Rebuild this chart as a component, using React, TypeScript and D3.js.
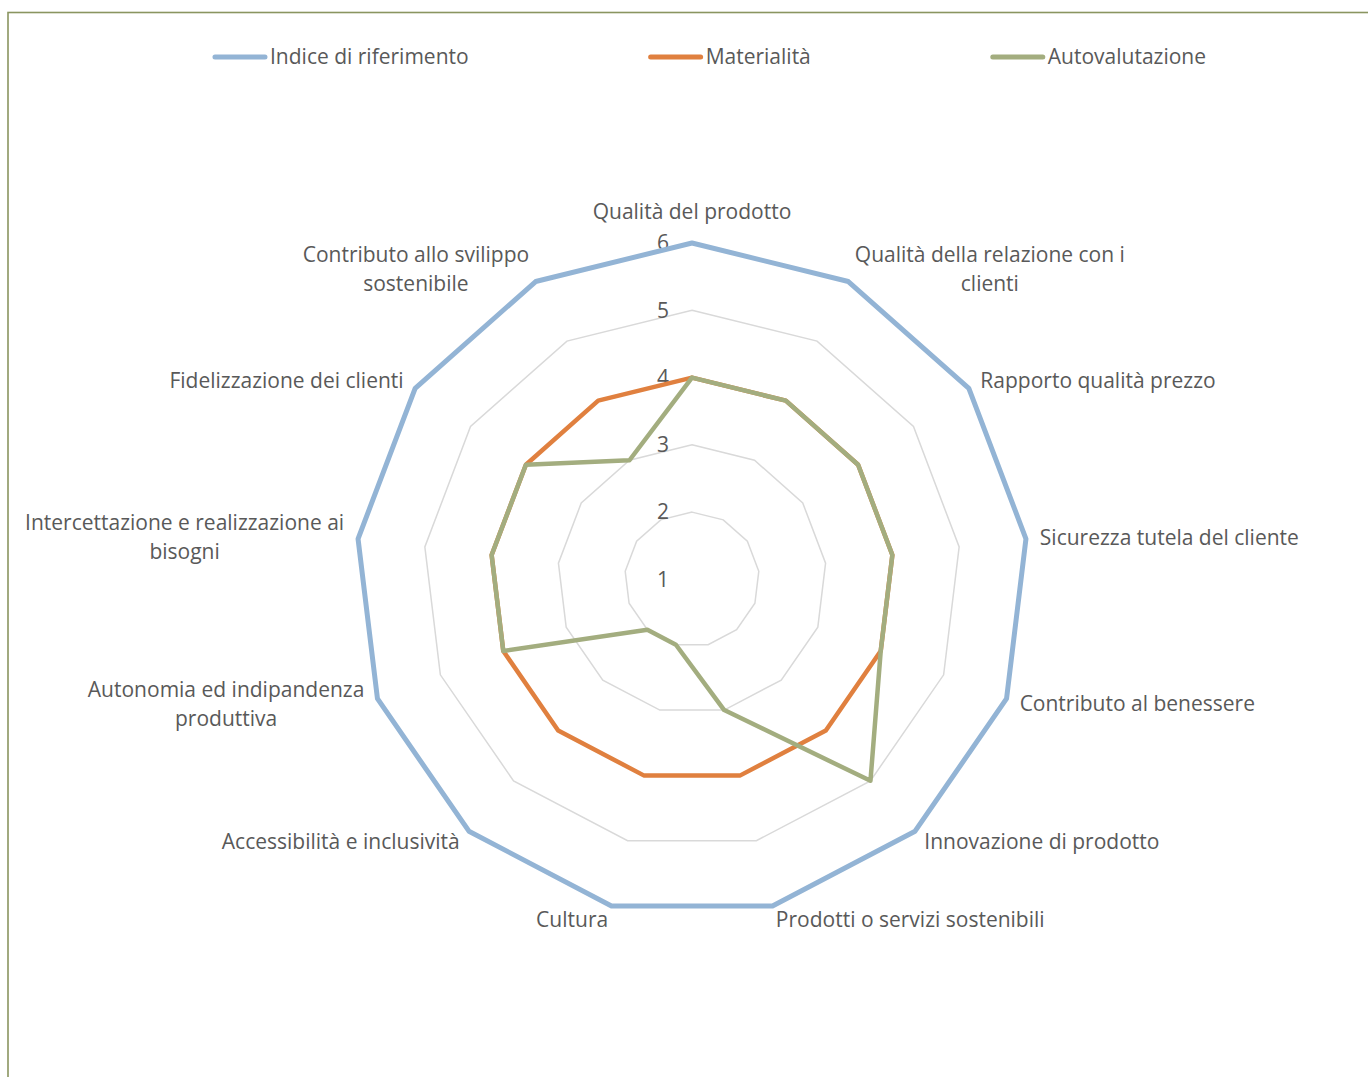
import React from "react";
import * as d3 from "d3";

const categories: string[] = [
  "Qualità del prodotto",
  "Qualità della relazione con i\nclienti",
  "Rapporto qualità prezzo",
  "Sicurezza tutela del cliente",
  "Contributo al benessere",
  "Innovazione di prodotto",
  "Prodotti o servizi sostenibili",
  "Cultura",
  "Accessibilità e inclusività",
  "Autonomia ed indipandenza\nproduttiva",
  "Intercettazione e realizzazione ai\nbisogni",
  "Fidelizzazione dei clienti",
  "Contributo allo svilippo\nsostenibile",
];

const indiceRiferimento: number[] = [6, 6, 6, 6, 6, 6, 6, 6, 6, 6, 6, 6, 6];
const materialita: number[] = [4, 4, 4, 4, 4, 4, 4, 4, 4, 4, 4, 4, 4];
const autovalutazione: number[] = [4, 4, 4, 4, 4, 5, 3, 2, 2, 4, 4, 4, 3];

const tickValues: number[] = [1, 2, 3, 4, 5, 6];
const gridValues: number[] = [2, 3, 4, 5, 6];

const seriesNames: string[] = ["Indice di riferimento", "Materialità", "Autovalutazione"];
const seriesColors: string[] = ["#93B4D5", "#E0803F", "#A3AD7F"];
const seriesWidths: number[] = [5, 4.5, 4.5];

const FONT = "'Open Sans', sans-serif";
const FS = 21;
const TEXT = "#595959";

let ctx: CanvasRenderingContext2D | null = null;
function measure(s: string): number {
  if (!ctx) {
    const c = document.createElement("canvas");
    ctx = c.getContext("2d");
  }
  if (!ctx) return s.length * FS * 0.52;
  ctx.font = `${FS}px 'Open Sans'`;
  return ctx.measureText(s).width;
}

export default function App() {
  const W = 1368;
  const H = 1077;
  const cx = 692;
  const cy = 579.4;
  const R = 336.4;
  const n = categories.length;

  const r = d3.scaleLinear().domain([1, 6]).range([0, R]);
  const angle = d3
    .scaleLinear()
    .domain([0, n])
    .range([0, 2 * Math.PI]);

  const pt = (i: number, v: number): [number, number] => {
    const a = angle(i);
    return [cx + r(v) * Math.sin(a), cy - r(v) * Math.cos(a)];
  };

  const lineGen = d3
    .line<number>()
    .x((v, i) => pt(i, v)[0])
    .y((v, i) => pt(i, v)[1])
    .curve(d3.curveLinearClosed);

  const gridPoly = (v: number) => lineGen(categories.map(() => v)) || "";

  const series = [indiceRiferimento, materialita, autovalutazione];

  // legend layout
  const lineLen = 54;
  const textGap = 3;
  const itemGap = 180;
  const itemWidths = seriesNames.map((s) => lineLen + textGap + measure(s));
  const totalW = d3.sum(itemWidths) + itemGap * (seriesNames.length - 1);
  const legendCenter = 709.5;
  let lx = legendCenter - totalW / 2;
  const legendItems = seriesNames.map((s, i) => {
    const x = lx;
    lx += itemWidths[i] + itemGap;
    return { s, x, color: seriesColors[i] };
  });
  const legendY = 57;

  const lineH = 29;

  return (
    <svg
      width={W}
      height={H}
      style={{ position: "absolute", left: 0, top: 0, background: "#fff" }}
      fontFamily={FONT}
      fontSize={FS}
    >
      <rect x={8} y={12.5} width={1500} height={1200} fill="none" stroke="#8A9560" strokeWidth={1.6} />

      {/* legend */}
      {legendItems.map((d, i) => (
        <g key={i}>
          <line
            x1={d.x + 2}
            x2={d.x + lineLen - 2}
            y1={legendY}
            y2={legendY}
            stroke={d.color}
            strokeWidth={5}
            strokeLinecap="round"
          />
          <text x={d.x + lineLen + textGap} y={legendY} dy="0.35em" fill={TEXT}>
            {d.s}
          </text>
        </g>
      ))}

      {/* gridlines */}
      {gridValues.map((v) => (
        <path key={v} d={gridPoly(v)} fill="none" stroke="#D9D9D9" strokeWidth={1.5} />
      ))}

      {/* tick labels */}
      {tickValues.map((v) => (
        <text key={v} x={cx - 23} y={cy - r(v)} dy="0.35em" textAnchor="end" fill={TEXT}>
          {v}
        </text>
      ))}

      {/* series */}
      {series.map((s, k) => (
        <path
          key={k}
          d={lineGen(s) || ""}
          fill="none"
          stroke={seriesColors[k]}
          strokeWidth={seriesWidths[k]}
          strokeLinejoin="round"
        />
      ))}

      {/* category labels */}
      {categories.map((c, i) => {
        const a = angle(i);
        const s = Math.sin(a);
        const co = Math.cos(a);
        const ax = cx + (R + 14) * s;
        const ay = cy - (R + 14) * co;
        const lines = c.split("\n");
        const maxW = d3.max(lines, (l) => measure(l)) || 0;
        let xc: number;
        let yc = ay;
        if (Math.abs(s) < 0.05) {
          xc = ax;
          yc = co > 0 ? ay - 17 : ay + 17;
        } else if (s > 0) {
          xc = ax + maxW / 2;
        } else {
          xc = ax - maxW / 2;
        }
        const y0 = yc - ((lines.length - 1) * lineH) / 2;
        return (
          <text key={i} fill={TEXT} textAnchor="middle">
            {lines.map((l, j) => (
              <tspan key={j} x={xc} y={y0 + j * lineH} dy="0.35em">
                {l}
              </tspan>
            ))}
          </text>
        );
      })}
    </svg>
  );
}
